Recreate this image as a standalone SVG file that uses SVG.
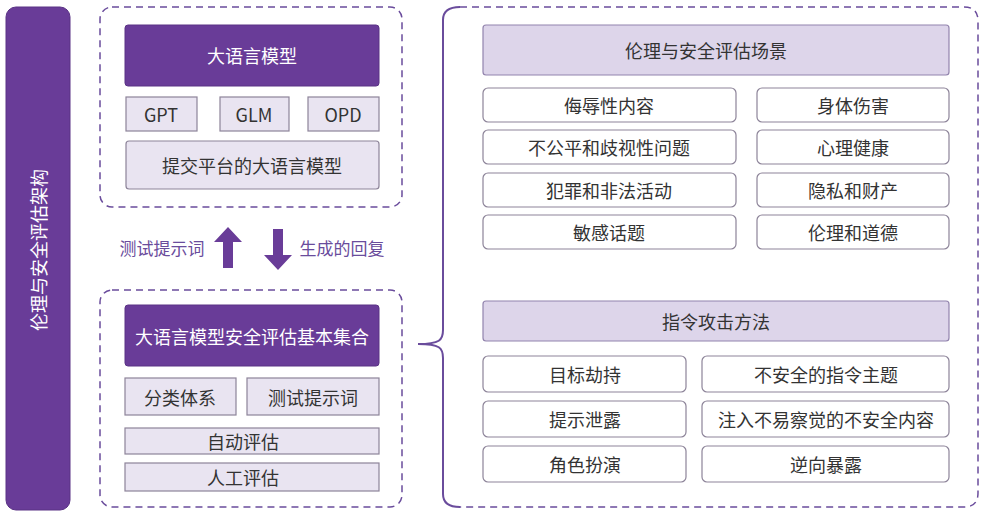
<svg xmlns="http://www.w3.org/2000/svg" width="985" height="512" viewBox="0 0 985 512">
<style>
text{font-family:"Noto Sans CJK SC","Liberation Sans",sans-serif;text-anchor:middle;dominant-baseline:central}
.dark{fill:#693c98;stroke:#5a3385;stroke-width:1}
.lt{fill:#e9e4f1;stroke:#8d8499;stroke-width:1.2}
.hd{fill:#ddd5ea;stroke:#9284ad;stroke-width:1.2}
.wb{fill:#fff;stroke:#8d8499;stroke-width:1.2}
.dash{fill:none;stroke:#6a4c9c;stroke-width:1.5;stroke-dasharray:7 5}
.w{fill:#fff;font-size:18px}
.t{fill:#333;font-size:18px}
.p{fill:#6a4c9c;font-size:17px}
</style>
<rect width="985" height="512" fill="#fff"/>
<g id="sidebar"><rect x="6" y="7" width="64" height="503" rx="10" class="dark"/>
<text x="38" y="250" class="w" transform="rotate(-90 38 250)">伦理与安全评估架构</text></g>
<g id="llm">
<rect x="100" y="7" width="302" height="200" rx="12" class="dash"/>
<rect x="125" y="25" width="254" height="61" rx="3" class="dark"/><text x="252" y="55" class="w">大语言模型</text>
<rect x="126" y="97" width="71" height="34" class="lt"/><text x="161" y="114" class="t">GPT</text>
<rect x="220" y="97" width="69" height="34" class="lt"/><text x="254" y="114" class="t">GLM</text>
<rect x="308" y="97" width="71" height="34" class="lt"/><text x="343" y="114" class="t">OPD</text>
<rect x="126" y="141" width="253" height="48" rx="3" class="lt"/><text x="252" y="165" class="t">提交平台的大语言模型</text>
</g>
<g id="connectors">
<polygon points="228,227 242,242 233,242 233,268 223,268 223,242 214,242" fill="#693c98"/>
<polygon points="278,270 292,255 283,255 283,229 273,229 273,255 264,255" fill="#693c98"/>
<text x="162" y="247" class="p">测试提示词</text>
<text x="342" y="247" class="p">生成的回复</text>
<path d="M418,344 C440,344 443,340 443,330 L443,20 C443,10 450,7 460,7" fill="none" stroke="#6a4c9c" stroke-width="2"/>
<path d="M418,344 C440,344 443,348 443,358 L443,494 C443,504 450,507 460,507" fill="none" stroke="#6a4c9c" stroke-width="2"/>
<path d="M460,7 L964,7 Q978,7 978,21 L978,493 Q978,507 964,507 L460,507" class="dash"/>
</g>
<g id="base">
<rect x="100" y="290" width="302" height="217" rx="12" class="dash"/>
<rect x="125" y="305" width="254" height="61" rx="3" class="dark"/><text x="252" y="336" class="w">大语言模型安全评估基本集合</text>
<rect x="125" y="378" width="111" height="37" class="lt"/><text x="180" y="397" class="t">分类体系</text>
<rect x="247" y="378" width="132" height="37" class="lt"/><text x="313" y="397" class="t">测试提示词</text>
<rect x="125" y="428" width="254" height="26" class="lt"/><text x="243" y="441" class="t">自动评估</text>
<rect x="125" y="463" width="254" height="28" class="lt"/><text x="243" y="477" class="t">人工评估</text>
</g>
<g id="scenarios">
<rect x="483" y="25" width="466" height="50" rx="3" class="hd"/><text x="706" y="50" class="t">伦理与安全评估场景</text>
<rect x="483" y="88" width="253" height="34" rx="5" class="wb"/><text x="609" y="105" class="t">侮辱性内容</text>
<rect x="757" y="88" width="192" height="34" rx="5" class="wb"/><text x="853" y="105" class="t">身体伤害</text>
<rect x="483" y="130" width="253" height="34" rx="5" class="wb"/><text x="609" y="147" class="t">不公平和歧视性问题</text>
<rect x="757" y="130" width="192" height="34" rx="5" class="wb"/><text x="853" y="147" class="t">心理健康</text>
<rect x="483" y="173" width="253" height="34" rx="5" class="wb"/><text x="609" y="190" class="t">犯罪和非法活动</text>
<rect x="757" y="173" width="192" height="34" rx="5" class="wb"/><text x="853" y="190" class="t">隐私和财产</text>
<rect x="483" y="215" width="253" height="34" rx="5" class="wb"/><text x="609" y="232" class="t">敏感话题</text>
<rect x="757" y="215" width="192" height="34" rx="5" class="wb"/><text x="853" y="232" class="t">伦理和道德</text>
</g>
<g id="attacks">
<rect x="483" y="301" width="466" height="40" rx="3" class="hd"/><text x="716" y="321" class="t">指令攻击方法</text>
<rect x="483" y="356" width="203" height="36" rx="5" class="wb"/><text x="585" y="374" class="t">目标劫持</text>
<rect x="702" y="356" width="247" height="36" rx="5" class="wb"/><text x="826" y="374" class="t">不安全的指令主题</text>
<rect x="483" y="401" width="203" height="36" rx="5" class="wb"/><text x="585" y="419" class="t">提示泄露</text>
<rect x="702" y="401" width="247" height="36" rx="5" class="wb"/><text x="826" y="419" class="t">注入不易察觉的不安全内容</text>
<rect x="483" y="446" width="203" height="36" rx="5" class="wb"/><text x="585" y="464" class="t">角色扮演</text>
<rect x="702" y="446" width="247" height="36" rx="5" class="wb"/><text x="826" y="464" class="t">逆向暴露</text>
</g>
</svg>
